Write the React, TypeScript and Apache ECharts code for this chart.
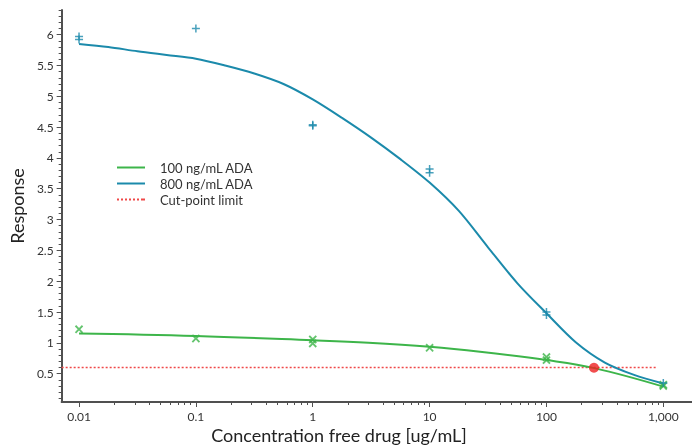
import React, { useEffect, useRef } from "react";
import * as echarts from "echarts";

// Tick labels
const xTickValues = [0.01, 0.1, 1, 10, 100, 1000];
const xTickLabels = ["0.01", "0.1", "1", "10", "100", "1,000"];
const yTickValues = [0.5, 1, 1.5, 2, 2.5, 3, 3.5, 4, 4.5, 5, 5.5, 6];

// 800 ng/mL ADA – fitted curve
const blueFitX = [0.01, 0.0178, 0.0316, 0.0562, 0.1, 0.178, 0.316, 0.562, 1, 1.78, 3.16, 5.62, 10, 17.8, 31.6, 56.2, 100, 178, 316, 562, 1000];
const blueFitY = [5.85, 5.8, 5.73, 5.67, 5.61, 5.5, 5.37, 5.2, 4.95, 4.65, 4.33, 3.98, 3.6, 3.14, 2.55, 1.97, 1.48, 1.01, 0.68, 0.48, 0.34];
// 800 ng/mL ADA – observed points
const bluePtX = [0.01, 0.01, 0.1, 1, 1, 10, 10, 100, 100, 1000];
const bluePtY = [5.97, 5.92, 6.1, 4.54, 4.52, 3.82, 3.76, 1.5, 1.45, 0.35];

// 100 ng/mL ADA – fitted curve
const greenFitX = [0.01, 0.1, 1, 3, 10, 27, 100, 257, 1000];
const greenFitY = [1.15, 1.11, 1.04, 1.0, 0.935, 0.855, 0.72, 0.59, 0.29];
// 100 ng/mL ADA – observed points
const greenPtX = [0.01, 0.1, 1, 1, 10, 100, 100, 1000, 1000];
const greenPtY = [1.22, 1.07, 1.055, 0.99, 0.92, 0.77, 0.72, 0.3, 0.32];

// Cut-point limit
const cutX = [0.0071, 880];
const cutY = [0.6, 0.6];
const crossX = [255];
const crossY = [0.595];

const X_MIN = 0.0071;
const X_MAX = 1760;
const Y_MIN = 0.04;
const Y_MAX = 6.4;

const BLUE = "#1b8aab";
const GREEN = "#3db54a";
const RED = "#f04848";
const AXIS = "#505050";
const FONT = "Lato, 'Noto Sans', sans-serif";

const lg = (v: number) => Math.log10(v);
const pairs = (xs: number[], ys: number[]) => xs.map((x, i) => [lg(x), ys[i]]);

const xMinor: number[] = [];
for (let d = -2; d < 3; d++) {
  for (let k = 2; k <= 9; k++) xMinor.push(lg(k * Math.pow(10, d)));
}
const yMinor: number[] = [];
for (let i = 1; i <= 64; i++) {
  if (i % 5 !== 0) yMinor.push(i / 10);
}

const PLUS = "path://M3.25,0h1.5v3.25h3.25v1.5h-3.25v3.25h-1.5v-3.25h-3.25v-1.5h3.25z";
const LINE_ICON = "path://M0,0h28v2h-28z";
const DOT_ICON =
  "path://M0,0h2v2h-2zM4,0h2v2h-2zM8,0h2v2h-2zM12,0h2v2h-2zM16,0h2v2h-2zM20,0h2v2h-2zM24,0h2v2h-2zM26,0h2v2h-2z";

export default function App() {
  const ref = useRef<HTMLDivElement>(null);
  useEffect(() => {
    if (!ref.current) return;
    const chart = echarts.init(ref.current, null, { renderer: "svg" });
    const xMajor = xTickValues.map(lg);
    const labelMap: Record<string, string> = {};
    xMajor.forEach((v, i) => (labelMap[v.toFixed(4)] = xTickLabels[i]));
    const baseX = {
      type: "value",
      min: lg(X_MIN),
      max: lg(X_MAX),
      position: "bottom",
      splitLine: { show: false },
    };
    const baseY = {
      type: "value",
      min: Y_MIN,
      max: Y_MAX,
      position: "left",
      splitLine: { show: false },
    };
    chart.setOption({
      animation: false,
      grid: { left: 61, right: 0, top: 10, bottom: 46, containLabel: false },
      xAxis: [
        {
          ...baseX,
          axisLine: { show: true, onZero: false, lineStyle: { color: AXIS, width: 2 } },
          axisTick: {
            show: true,
            customValues: xMajor,
            length: 5,
            lineStyle: { color: AXIS, width: 1 },
          },
          axisLabel: {
            customValues: xMajor,
            formatter: (v: number) => labelMap[v.toFixed(4)] ?? "",
            color: "#333",
            fontSize: 12,
            fontFamily: FONT,
            margin: 8,
          },
        },
        {
          ...baseX,
          axisLine: { show: false, onZero: false },
          axisTick: {
            show: true,
            customValues: xMinor,
            length: 3,
            lineStyle: { color: AXIS, width: 1 },
          },
          axisLabel: { show: false },
        },
      ],
      yAxis: [
        {
          ...baseY,
          name: "Response",
          nameLocation: "middle",
          nameGap: 35,
          nameRotate: 90,
          nameTextStyle: { fontSize: 18, color: "#222", fontFamily: FONT },
          axisLine: { show: true, onZero: false, lineStyle: { color: AXIS, width: 2 } },
          axisTick: {
            show: true,
            customValues: yTickValues,
            length: 5,
            lineStyle: { color: AXIS, width: 1 },
          },
          axisLabel: {
            customValues: yTickValues,
            color: "#333",
            fontSize: 12,
            fontFamily: FONT,
            margin: 8,
          },
        },
        {
          ...baseY,
          axisLine: { show: false, onZero: false },
          axisTick: {
            show: true,
            customValues: yMinor,
            length: 3,
            lineStyle: { color: AXIS, width: 1 },
          },
          axisLabel: { show: false },
        },
      ],
      legend: {
        orient: "vertical",
        left: 112,
        top: 156,
        itemWidth: 28,
        itemHeight: 12,
        itemGap: 3,
        data: [
          { name: "100 ng/mL ADA", icon: LINE_ICON, itemStyle: { color: GREEN } },
          { name: "800 ng/mL ADA", icon: LINE_ICON, itemStyle: { color: BLUE } },
          { name: "Cut-point limit", icon: DOT_ICON, itemStyle: { color: RED } },
        ],
        textStyle: { color: "#333", fontSize: 13, fontFamily: FONT, padding: [0, 0, 0, 10] },
      },
      graphic: [
        {
          type: "text",
          x: 339,
          y: 435,
          style: {
            text: "Concentration free drug [ug/mL]",
            font: `18px ${FONT}`,
            fill: "#222",
            textAlign: "center",
            textVerticalAlign: "middle",
            align: "center",
            verticalAlign: "middle",
          },
        },
      ],
      series: [
        {
          name: "100 ng/mL ADA",
          type: "line",
          data: pairs(greenFitX, greenFitY),
          smooth: 0.4,
          symbol: "none",
          lineStyle: { color: GREEN, width: 2 },
          itemStyle: { color: GREEN },
          z: 3,
        },
        {
          name: "800 ng/mL ADA",
          type: "line",
          data: pairs(blueFitX, blueFitY),
          smooth: 0.3,
          symbol: "none",
          lineStyle: { color: BLUE, width: 2 },
          itemStyle: { color: BLUE },
          z: 3,
        },
        {
          name: "Cut-point limit",
          type: "line",
          data: pairs(cutX, cutY),
          symbol: "none",
          lineStyle: { color: RED, width: 1.5, type: [2, 2] },
          itemStyle: { color: RED },
          z: 2,
        },
        {
          name: "100 ng/mL ADA points",
          type: "scatter",
          data: pairs(greenPtX, greenPtY),
          symbol: PLUS,
          symbolRotate: 45,
          symbolSize: 10,
          itemStyle: { color: GREEN },
          z: 4,
        },
        {
          name: "800 ng/mL ADA points",
          type: "scatter",
          data: pairs(bluePtX, bluePtY),
          symbol: PLUS,
          symbolSize: 8,
          itemStyle: { color: BLUE },
          z: 4,
        },
        {
          name: "Cut-point crossing",
          type: "scatter",
          data: pairs(crossX, crossY),
          symbol: "circle",
          symbolSize: 10,
          itemStyle: { color: "#ee2222" },
          z: 5,
        },
      ],
    });
    return () => chart.dispose();
  }, []);
  return <div ref={ref} style={{ position: "fixed", left: 0, top: 0, width: 692, height: 448 }} />;
}
